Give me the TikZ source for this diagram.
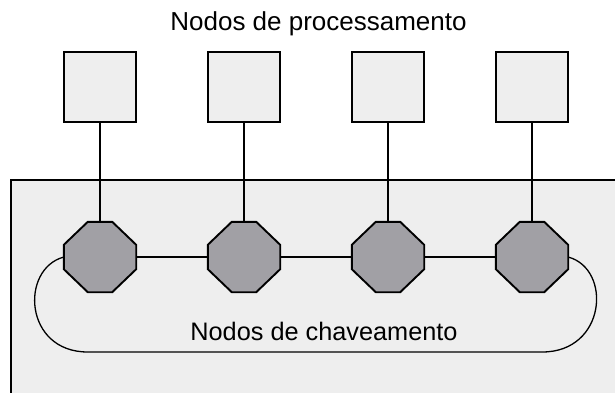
\documentclass[tikz,border=0pt]{standalone}
\usepackage{fontspec}
\setmainfont{Liberation Sans}
\usetikzlibrary{calc}
\definecolor{boxgray}{RGB}{238,238,238}
\definecolor{octgray}{RGB}{161,160,165}
\begin{document}
\begin{tikzpicture}[x=1pt,y=-1pt,
  proc/.style={draw=black, line width=1.7pt, fill=boxgray, minimum width=72pt, minimum height=70pt, inner sep=0pt},
  swnode/.style={minimum width=72pt, minimum height=70pt, inner sep=0pt},
  octo/.style={draw=black, line width=1.9pt, fill=octgray, line join=miter},
  wire/.style={draw=black, line width=1.3pt},
  region/.style={draw=black, line width=1.3pt, fill=boxgray},
  lbl/.style={inner sep=0pt, anchor=base}]
\useasboundingbox (0,0) rectangle (615,392);
\clip (0,0) rectangle (615,392);
\fill[white] (0,0) rectangle (615,392);
% switching region
\draw[region] (11,180) rectangle (640,420);
% processing nodes
\foreach \i in {1,...,4}{
  \node[proc] (p\i) at ({100+144*(\i-1)},87) {};
  \node[swnode] (o\i) at ({100+144*(\i-1)},257) {};
}
% wires from processing nodes to switches
\foreach \i in {1,...,4}{
  \draw[wire] (p\i.south) -- (o\i.north);
}
\draw[wire] (o1.east) -- (o2.west);
\draw[wire] (o2.east) -- (o3.west);
\draw[wire] (o3.east) -- (o4.west);
% loop
\draw[wire] (o1.west) .. controls ($(o1.west)+(-44,12)$) and ($(o1.west)+(-40,95)$) .. ($(o1.west)+(24,95)$)
  -- ($(o4.east)+(-26,95)$) .. controls ($(o4.east)+(38,95)$) and ($(o4.east)+(44,12)$) .. (o4.east);
% octagons
\foreach \i in {1,...,4}{
  \draw[octo] ($(o\i.north west)+(24,0)$) -- ($(o\i.north east)+(-24,0)$)
    -- ($(o\i.north east)+(0,23)$) -- ($(o\i.south east)+(0,-23)$)
    -- ($(o\i.south east)+(-24,0)$) -- ($(o\i.south west)+(24,0)$)
    -- ($(o\i.south west)+(0,-23)$) -- ($(o\i.north west)+(0,23)$) -- cycle;
}
% labels
\node[lbl, font=\fontsize{26}{31}\selectfont] (tp) at (318.5,30) {Nodos de processamento};
\node[lbl, font=\fontsize{25.3}{30}\selectfont] (tc) at (324,340) {Nodos de chaveamento};
\end{tikzpicture}
\end{document}
